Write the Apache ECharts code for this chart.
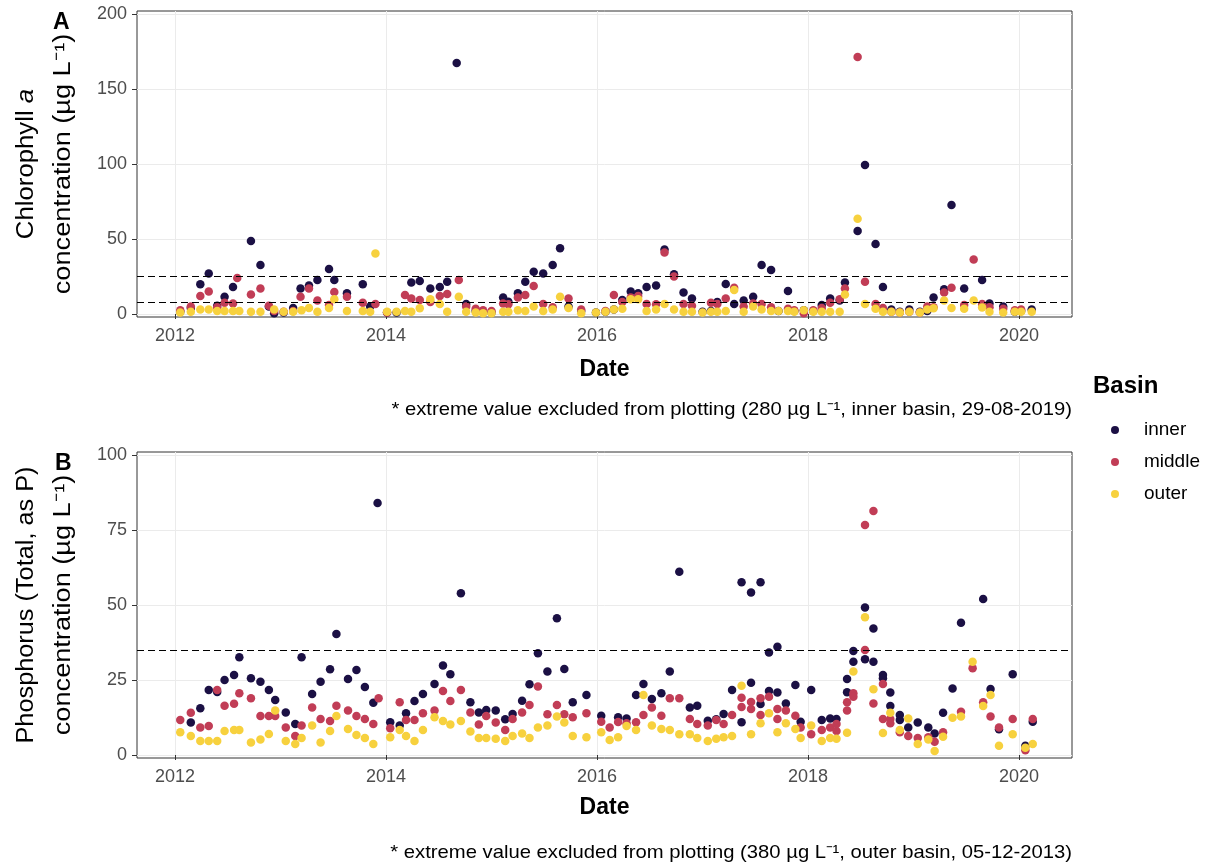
<!DOCTYPE html>
<html>
<head>
<meta charset="utf-8">
<script src="https://cdn.jsdelivr.net/npm/echarts@6/dist/echarts.min.js"></script>
<style>
  html, body { margin: 0; padding: 0; background: #fff; }
  #chart { width: 1220px; height: 866px; }
</style>
</head>
<body>
<div id="chart"></div>
<script>
// Sampling dates are given as decimal years; values in µg/L.
const yearTicks = [2012, 2014, 2016, 2018, 2020];
const chlTicks = [0, 50, 100, 150, 200];
const tpTicks = [0, 25, 50, 75, 100];
const chlGuides = [8, 25];
const tpGuides = [35];
const basins = ['inner', 'middle', 'outer'];
const basinColors = ['#1b1044', '#c13d56', '#f7d13e'];

// Chlorophyll a
const chlInner = [[2012.05,1.5],[2012.15,4],[2012.24,19.8],[2012.32,27],[2012.40,5.5],[2012.47,11.5],[2012.55,18],[2012.72,48.7],[2012.81,32.7],[2012.89,5],[2012.94,0.5],[2013.03,1],[2013.12,4],[2013.19,17],[2013.27,19],[2013.35,22.7],[2013.46,30],[2013.51,22.7],[2013.63,13.8],[2013.78,19.8],[2013.85,5],[2014.01,1],[2014.10,1],[2014.24,21],[2014.32,22],[2014.42,17],[2014.51,18],[2014.58,21.5],[2014.67,167.3],[2014.76,6.7],[2014.85,2],[2014.92,1],[2015.00,1],[2015.11,11],[2015.16,8.2],[2015.25,13.8],[2015.32,21.5],[2015.40,28.2],[2015.49,27],[2015.58,32.7],[2015.65,43.8],[2015.73,5],[2015.85,2],[2015.99,1],[2016.08,1.5],[2016.16,3],[2016.24,9.3],[2016.32,15],[2016.39,13.8],[2016.47,18],[2016.56,19],[2016.64,43],[2016.73,26.5],[2016.82,14.3],[2016.90,10.4],[2017.00,1.5],[2017.08,2],[2017.14,8],[2017.22,20],[2017.30,6.7],[2017.39,9],[2017.48,11.5],[2017.56,32.7],[2017.65,29.3],[2017.72,2],[2017.81,15.3],[2017.87,2],[2017.96,2.5],[2018.05,2],[2018.13,6],[2018.21,10.4],[2018.30,9],[2018.35,21],[2018.47,55.3],[2018.54,99.3],[2018.64,46.7],[2018.71,18],[2018.79,3],[2018.87,1.5],[2018.96,3],[2019.06,1.5],[2019.13,2],[2019.19,11],[2019.29,16.5],[2019.36,72.7],[2019.48,17],[2019.65,22.7],[2019.72,7],[2019.85,5],[2019.96,1.5],[2020.02,2],[2020.12,3]];
const chlMiddle = [[2012.05,2.5],[2012.15,5],[2012.24,12],[2012.32,15],[2012.40,4.5],[2012.47,7.5],[2012.55,7],[2012.59,24],[2012.72,13],[2012.81,17],[2012.89,5.5],[2012.94,2],[2013.03,1.5],[2013.12,2],[2013.19,11.5],[2013.27,17],[2013.35,9],[2013.46,6],[2013.51,14.7],[2013.63,11.5],[2013.78,7.5],[2013.90,6.7],[2014.01,1],[2014.18,12.7],[2014.24,10.4],[2014.32,9.3],[2014.42,8],[2014.51,12],[2014.58,13.3],[2014.69,22.7],[2014.76,5],[2014.85,3.5],[2014.92,2.5],[2015.00,2],[2015.11,7],[2015.16,6.5],[2015.25,11],[2015.32,12.7],[2015.40,18.7],[2015.49,6.7],[2015.58,4.5],[2015.73,10.4],[2015.85,3],[2016.08,2],[2016.16,12.7],[2016.24,8],[2016.32,11],[2016.39,12],[2016.47,6.7],[2016.56,6.5],[2016.64,41],[2016.73,25],[2016.82,6.7],[2016.90,5.5],[2017.08,7.5],[2017.14,6.7],[2017.22,10.4],[2017.30,17.5],[2017.39,5],[2017.48,7],[2017.56,6.7],[2017.65,4.5],[2017.81,3.5],[2017.87,2.5],[2017.96,0.5],[2018.05,2.5],[2018.13,4],[2018.21,7.5],[2018.30,9.8],[2018.35,17],[2018.47,171.3],[2018.54,21.5],[2018.64,6.7],[2018.71,4],[2018.79,1.5],[2018.87,1],[2018.96,1.5],[2019.06,1],[2019.13,5],[2019.19,4.5],[2019.29,14.3],[2019.36,17.5],[2019.48,6],[2019.57,36.4],[2019.65,6.7],[2019.72,4.5],[2019.85,3.5],[2019.96,2.5],[2020.02,3]];
const chlOuter = [[2012.05,1],[2012.15,1.5],[2012.24,3],[2012.32,3],[2012.40,2],[2012.47,2],[2012.55,2],[2012.61,2],[2012.72,1.5],[2012.81,1.5],[2012.94,3],[2013.03,1.5],[2013.12,1.5],[2013.20,2.5],[2013.27,4],[2013.35,1.5],[2013.46,4],[2013.51,9.8],[2013.63,2],[2013.78,2],[2013.85,1.5],[2013.90,40.4],[2014.01,1.5],[2014.10,1.5],[2014.18,2],[2014.24,1.5],[2014.32,3.8],[2014.42,9.8],[2014.51,6.7],[2014.58,1.5],[2014.69,11.5],[2014.76,1.5],[2014.85,1],[2014.92,0.5],[2015.00,0.5],[2015.11,1.5],[2015.16,1.5],[2015.25,2.5],[2015.32,2],[2015.40,5],[2015.49,2],[2015.58,3],[2015.65,11.5],[2015.73,4],[2015.85,0.5],[2015.99,1],[2016.08,1.5],[2016.16,3],[2016.24,3.5],[2016.32,9.8],[2016.39,9.8],[2016.47,2],[2016.56,3],[2016.64,6.7],[2016.73,3],[2016.82,1.5],[2016.90,1.5],[2017.00,1],[2017.08,1.5],[2017.14,1.5],[2017.22,2],[2017.30,16],[2017.39,1.5],[2017.48,5],[2017.56,3],[2017.65,2],[2017.72,2],[2017.81,2],[2017.87,1.5],[2017.96,2.5],[2018.05,1.5],[2018.13,1.5],[2018.21,1.5],[2018.30,1.5],[2018.35,13],[2018.47,63.5],[2018.54,6.7],[2018.64,3.5],[2018.71,1.5],[2018.79,1.5],[2018.87,1],[2018.96,1.5],[2019.06,1],[2019.13,3],[2019.19,3.8],[2019.29,9],[2019.36,4],[2019.48,3.5],[2019.57,9],[2019.65,4.3],[2019.72,1.5],[2019.85,1],[2019.96,1.5],[2020.02,1.5],[2020.12,1.5]];

// Total phosphorus (as P)
const tpInner = [[2012.15,10.8],[2012.24,15.6],[2012.32,21.7],[2012.40,21],[2012.47,25],[2012.56,26.7],[2012.61,32.6],[2012.72,25.6],[2012.81,24.4],[2012.89,21.7],[2012.95,18.3],[2013.05,14.2],[2013.14,10.3],[2013.20,32.6],[2013.30,20.3],[2013.38,24.4],[2013.47,28.6],[2013.53,40.3],[2013.64,25.3],[2013.72,28.3],[2013.80,22.7],[2013.88,17.4],[2013.92,84],[2014.04,10.9],[2014.13,9.8],[2014.19,13.9],[2014.27,18],[2014.35,20.3],[2014.46,23.7],[2014.54,29.8],[2014.61,26.9],[2014.71,53.9],[2014.80,17.6],[2014.88,14.2],[2014.95,15],[2015.04,14.8],[2015.13,11.9],[2015.20,13.7],[2015.29,18.1],[2015.36,23.6],[2015.44,33.9],[2015.53,27.8],[2015.62,45.6],[2015.69,28.7],[2015.77,17.6],[2015.90,20],[2016.04,13.1],[2016.20,12.6],[2016.28,12.2],[2016.37,20],[2016.44,23.7],[2016.52,18.7],[2016.61,20.6],[2016.69,27.8],[2016.78,61.1],[2016.88,15.8],[2016.95,16.4],[2017.05,11.4],[2017.13,11.9],[2017.20,13.7],[2017.28,21.7],[2017.37,57.6],[2017.37,10.9],[2017.46,54.2],[2017.46,24.1],[2017.55,57.6],[2017.55,17],[2017.63,34.2],[2017.63,21.3],[2017.71,36.1],[2017.71,20.8],[2017.79,17.2],[2017.88,23.3],[2017.93,11.1],[2018.03,21.7],[2018.13,11.7],[2018.21,12.2],[2018.27,12],[2018.37,25.3],[2018.37,20.9],[2018.43,34.7],[2018.43,31.1],[2018.54,49.2],[2018.54,31.9],[2018.62,42.2],[2018.62,31.1],[2018.71,26.7],[2018.71,25.6],[2018.78,20.8],[2018.78,16.3],[2018.87,13.3],[2018.87,11.7],[2018.95,9.2],[2019.04,10.8],[2019.14,9.2],[2019.20,7.2],[2019.28,14.1],[2019.37,22.2],[2019.45,44.1],[2019.66,52],[2019.73,22],[2019.81,8.6],[2019.94,26.9],[2020.06,3.1],[2020.13,11.1]];
const tpMiddle = [[2012.05,11.7],[2012.15,14.1],[2012.24,9.2],[2012.32,9.7],[2012.40,21.7],[2012.47,16.4],[2012.56,17.1],[2012.61,20.6],[2012.72,18.9],[2012.81,13],[2012.89,13],[2012.95,13],[2013.05,9.2],[2013.14,6.3],[2013.20,9.8],[2013.30,15.8],[2013.38,12],[2013.47,11.3],[2013.53,16.4],[2013.64,14.8],[2013.72,13],[2013.80,12],[2013.88,10.3],[2013.93,18.9],[2014.04,8.9],[2014.13,17.6],[2014.19,11.7],[2014.27,11.7],[2014.35,13.9],[2014.46,14.8],[2014.54,21.3],[2014.61,18],[2014.71,21.7],[2014.80,14.2],[2014.88,10.2],[2014.95,13],[2015.04,10.8],[2015.13,8.3],[2015.20,12],[2015.29,14.2],[2015.36,16.7],[2015.44,22.8],[2015.53,13.6],[2015.62,16.7],[2015.69,13.6],[2015.77,12.6],[2015.90,13.9],[2016.04,11.1],[2016.12,9.2],[2016.20,11],[2016.28,10.6],[2016.37,10.9],[2016.44,13.3],[2016.52,15.8],[2016.61,13.1],[2016.69,18.9],[2016.78,18.9],[2016.88,12],[2016.95,10.3],[2017.05,9.8],[2017.13,11.7],[2017.20,10.3],[2017.28,13.3],[2017.37,19.1],[2017.37,16],[2017.46,17.7],[2017.46,15.3],[2017.55,18.9],[2017.55,13.3],[2017.63,19.4],[2017.71,15.3],[2017.71,12],[2017.79,14.8],[2017.88,13.1],[2017.93,9.2],[2018.03,6.9],[2018.13,8.3],[2018.21,9.2],[2018.27,8],[2018.27,10.3],[2018.37,17.6],[2018.37,14.8],[2018.43,20.6],[2018.43,19.4],[2018.54,76.7],[2018.54,35],[2018.62,81.3],[2018.62,17.2],[2018.71,23.7],[2018.71,12],[2018.78,12],[2018.78,10.6],[2018.87,7.6],[2018.95,6.3],[2019.04,5.7],[2019.14,5.9],[2019.20,4.4],[2019.28,7.6],[2019.45,14.4],[2019.56,28.9],[2019.66,17.6],[2019.73,12.8],[2019.81,9.2],[2019.94,12],[2020.06,1.6],[2020.13,12]];
const tpOuter = [[2012.05,7.6],[2012.15,6.3],[2012.24,4.7],[2012.32,4.7],[2012.40,4.7],[2012.47,8],[2012.56,8.3],[2012.61,8.3],[2012.72,4.2],[2012.81,5.2],[2012.89,7],[2012.95,14.8],[2013.05,4.7],[2013.14,3.7],[2013.20,5.7],[2013.30,9.8],[2013.38,4.2],[2013.47,8],[2013.53,13],[2013.64,8.7],[2013.72,6.7],[2013.80,5.7],[2013.88,3.7],[2014.04,5.9],[2014.13,8.3],[2014.19,6.3],[2014.27,4.7],[2014.35,8.3],[2014.46,12.6],[2014.54,11.3],[2014.61,10.2],[2014.71,11.3],[2014.80,7.8],[2014.88,5.7],[2014.95,5.7],[2015.04,5.4],[2015.13,4.7],[2015.20,6.3],[2015.29,7.2],[2015.36,5.7],[2015.44,9.2],[2015.53,9.8],[2015.62,12.8],[2015.69,10.8],[2015.77,6.3],[2015.90,5.9],[2016.04,7.6],[2016.12,5],[2016.20,5.9],[2016.28,9.7],[2016.37,8.3],[2016.44,20],[2016.52,9.8],[2016.61,8.7],[2016.69,8.3],[2016.78,6.9],[2016.88,6.9],[2016.95,5.7],[2017.05,4.7],[2017.13,5.4],[2017.20,5.9],[2017.28,6.3],[2017.37,23.1],[2017.46,6.9],[2017.55,10.6],[2017.63,13.9],[2017.71,7.6],[2017.79,10.6],[2017.88,8.7],[2017.93,5.7],[2018.03,9.8],[2018.13,4.7],[2018.21,5.7],[2018.27,5.4],[2018.37,7.4],[2018.43,27.8],[2018.54,45.9],[2018.62,21.9],[2018.71,7.3],[2018.78,14.1],[2018.87,8.3],[2018.95,12.2],[2019.04,3.7],[2019.14,5.2],[2019.20,1.3],[2019.28,6.1],[2019.37,12.4],[2019.45,12.8],[2019.56,31.1],[2019.66,16.3],[2019.73,20],[2019.81,3.1],[2019.94,6.9],[2020.06,2.4],[2020.13,3.7]];

const FONT = '"Liberation Sans", Arial, sans-serif';
const xRange = [2011.64, 2020.502];
const panels = [
  { top: 11, yRange: [-2, 202], ticks: chlTicks, guides: chlGuides, data: [chlInner, chlMiddle, chlOuter] },
  { top: 452, yRange: [-1, 101], ticks: tpTicks, guides: tpGuides, data: [tpInner, tpMiddle, tpOuter] }
];

const grid = [], xAxis = [], yAxis = [], series = [];
panels.forEach((p, i) => {
  grid.push({ left: 137, top: p.top, width: 935, height: 306, show: true,
    borderColor: '#333', borderWidth: 1, backgroundColor: 'transparent' });
  xAxis.push({
    type: 'value', gridIndex: i, min: xRange[0], max: xRange[1],
    axisLine: { show: false },
    axisTick: { show: true, length: 5, customValues: yearTicks, lineStyle: { color: '#333' } },
    axisLabel: { customValues: yearTicks, margin: 10, color: '#4d4d4d', fontSize: 18, fontFamily: FONT,
      formatter: v => String(v) },
    splitLine: { show: true, lineStyle: { color: '#ebebeb', width: 1 } }
  });
  yAxis.push({
    type: 'value', gridIndex: i, min: p.yRange[0], max: p.yRange[1],
    axisLine: { show: false },
    axisTick: { show: true, length: 5, customValues: p.ticks, lineStyle: { color: '#333' } },
    axisLabel: { customValues: p.ticks, margin: 10, color: '#4d4d4d', fontSize: 18, fontFamily: FONT },
    splitLine: { show: true, lineStyle: { color: '#ebebeb', width: 1 } }
  });
  p.data.forEach((d, k) => {
    const s = {
      type: 'scatter', name: basins[k], xAxisIndex: i, yAxisIndex: i,
      data: d, symbol: 'circle', symbolSize: 8.5, clip: false,
      itemStyle: { color: basinColors[k], opacity: 1 },
      emphasis: { disabled: true }, z: 3 + k
    };
    if (k === 2) {
      s.markLine = {
        silent: true, symbol: 'none', label: { show: false },
        lineStyle: { color: '#000', width: 1, type: [7, 4] },
        data: p.guides.map(g => ({ yAxis: g })), z: 10
      };
    }
    series.push(s);
  });
});

const sup = '\u207B\u00B9';
const titleFont = { fontSize: 23, fontFamily: FONT, fill: '#000' };
const unitLine = 'concentration (\u00B5g L' + sup + ')';
const graphic = [
  { type: 'text', left: 53, top: 11, style: { text: 'A', fontSize: 23, fontWeight: 'bold', fontFamily: FONT, fill: '#000' } },
  { type: 'text', left: 55, top: 452, style: { text: 'B', fontSize: 23, fontWeight: 'bold', fontFamily: FONT, fill: '#000' } },
  { type: 'text', x: 27, y: 164, rotation: Math.PI / 2, scaleX: 1.12,
    style: Object.assign({ text: '{r|Chlorophyll }{i|a}', textAlign: 'center', textVerticalAlign: 'middle',
      rich: { r: { fontSize: 23, fontFamily: FONT }, i: { fontSize: 23, fontFamily: FONT, fontStyle: 'italic' } } }, titleFont) },
  { type: 'text', x: 64, y: 164, rotation: Math.PI / 2, scaleX: 1.18,
    style: Object.assign({ text: unitLine, textAlign: 'center', textVerticalAlign: 'middle' }, titleFont) },
  { type: 'text', x: 27, y: 605, rotation: Math.PI / 2, scaleX: 1.1,
    style: Object.assign({ text: 'Phosphorus (Total, as P)', textAlign: 'center', textVerticalAlign: 'middle' }, titleFont) },
  { type: 'text', x: 64, y: 605, rotation: Math.PI / 2, scaleX: 1.18,
    style: Object.assign({ text: unitLine, textAlign: 'center', textVerticalAlign: 'middle' }, titleFont) },
  { type: 'text', x: 604.5, y: 370, style: { text: 'Date', fontSize: 23, fontWeight: 'bold', fontFamily: FONT, fill: '#000', textAlign: 'center', textVerticalAlign: 'middle' } },
  { type: 'text', x: 604.5, y: 808, style: { text: 'Date', fontSize: 23, fontWeight: 'bold', fontFamily: FONT, fill: '#000', textAlign: 'center', textVerticalAlign: 'middle' } },
  { type: 'text', x: 1072, y: 410, scaleX: 1.065, style: { text: '* extreme value excluded from plotting (280 \u00B5g L' + sup + ', inner basin, 29-08-2019)', fontSize: 19, fontFamily: FONT, fill: '#000', textAlign: 'right', textVerticalAlign: 'middle' } },
  { type: 'text', x: 1072, y: 853, scaleX: 1.065, style: { text: '* extreme value excluded from plotting (380 \u00B5g L' + sup + ', outer basin, 05-12-2013)', fontSize: 19, fontFamily: FONT, fill: '#000', textAlign: 'right', textVerticalAlign: 'middle' } },
  { type: 'text', x: 1093, y: 386, style: { text: 'Basin', fontSize: 24, fontWeight: 'bold', fontFamily: FONT, fill: '#000', textAlign: 'left', textVerticalAlign: 'middle' } }
];

const chart = echarts.init(document.getElementById('chart'), null, { renderer: 'canvas' });
chart.setOption({
  animation: false,
  backgroundColor: '#fff',
  grid, xAxis, yAxis, series, graphic,
  legend: {
    data: basins, orient: 'vertical', left: 1106, top: 415,
    icon: 'circle', itemWidth: 8, itemHeight: 8, itemGap: 12,
    selectedMode: false,
    textStyle: { fontSize: 19, fontFamily: FONT, color: '#000', lineHeight: 20, padding: [0, 0, 0, 20] }
  },
  tooltip: { show: false }
});
</script>
</body>
</html>
